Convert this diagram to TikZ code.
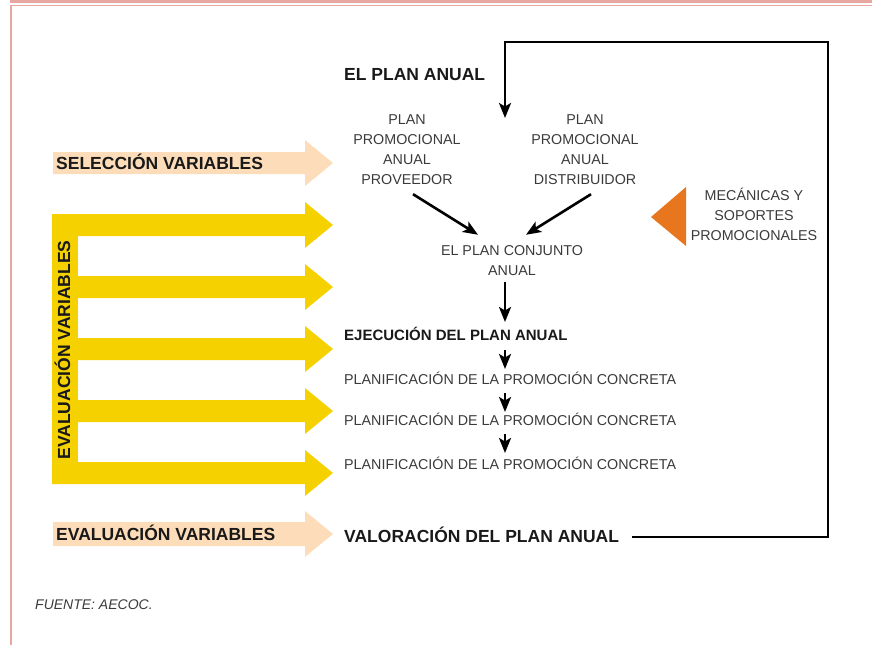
\documentclass[tikz,border=0pt]{standalone}
\usepackage{fontspec}
\setmainfont{Liberation Sans}
\usepackage{xcolor}
\usepackage{tikz}
\usetikzlibrary{arrows.meta}

\definecolor{evalyellow}{HTML}{F5D100}
\definecolor{selpeach}{HTML}{FDDDB9}
\definecolor{mecaorange}{HTML}{E8761E}
\definecolor{framepink}{HTML}{E8A8A2}
\definecolor{textgray}{HTML}{3A3A3A}

\begin{document}
\begin{tikzpicture}[x=1pt,y=-1pt]
    \tikzstyle{heading}=[font=\bfseries\fontsize{17.5}{20}\selectfont, text=black!90, inner sep=0pt, anchor=base west]
\tikzstyle{subheading}=[font=\bfseries\fontsize{15}{18}\selectfont, text=black!90, inner sep=0pt, anchor=base west]
\tikzstyle{plain}=[font=\fontsize{14.3}{20}\selectfont, text=textgray, inner sep=0pt, align=center]
\tikzstyle{flow}=[line width=2.6pt, -{Stealth[length=15pt,width=12pt,inset=3.5pt]}]
\useasboundingbox (0,0) rectangle (872,645);
% frame
\fill[framepink] (10,0) rectangle (872,3);
\fill[framepink] (10,4.7) rectangle (872,6.4);
\fill[framepink] (10,4.7) rectangle (12.4,645);
% left arrows
\fill[selpeach] (53,152) -- (305,152) -- (305,140) -- (333,163) -- (305,186) -- (305,174) -- (53,174) -- cycle;
\fill[selpeach] (53,522) -- (305,522) -- (305,511) -- (333,534) -- (305,557) -- (305,546) -- (53,546) -- cycle;
\fill[evalyellow] (52,214) rectangle (78,484);
\foreach \y in {225,287,349,411,473}
    \fill[evalyellow] (52,\y-11) -- (305,\y-11) -- (305,\y-23) -- (333,\y) -- (305,\y+23) -- (305,\y+11) -- (52,\y+11) -- cycle;
\node[heading] (selvar) at (56,169) {SELECCIÓN VARIABLES};
\node[heading] (evalvar) at (56,540) {EVALUACIÓN VARIABLES};
\node[heading, anchor=base, rotate=90] (evalside) at (70,350) {EVALUACIÓN VARIABLES};
% plan
\node[heading] (plananual) at (344,80.8) {EL PLAN ANUAL};
\node[plain] (prov) at (407,150) {PLAN\\PROMOCIONAL\\ANUAL\\PROVEEDOR};
\node[plain] (dist) at (585,150) {PLAN\\PROMOCIONAL\\ANUAL\\DISTRIBUIDOR};
\node[plain] (conj) at (512,261) {EL PLAN CONJUNTO\\ANUAL};
\fill[mecaorange] (686,187) -- (686,246) -- (651,217) -- cycle;
\node[plain] (meca) at (754,214.7) {MECÁNICAS Y\\SOPORTES\\PROMOCIONALES};
\node[subheading] (ejec) at (344,340) {EJECUCIÓN DEL PLAN ANUAL};
\node[plain, anchor=base west] (promoa) at (344,384) {PLANIFICACIÓN DE LA PROMOCIÓN CONCRETA};
\node[plain, anchor=base west] (promob) at (344,425) {PLANIFICACIÓN DE LA PROMOCIÓN CONCRETA};
\node[plain, anchor=base west] (promoc) at (344,469) {PLANIFICACIÓN DE LA PROMOCIÓN CONCRETA};
\node[heading] (valor) at (344,542.5) {VALORACIÓN DEL PLAN ANUAL};
\node[plain, anchor=base west, font=\itshape\fontsize{14}{16}\selectfont] (fuente) at (35,609) {FUENTE: AECOC.};
% arrows
\coordinate (axis) at (505,0);
\draw[flow] ([xshift=6pt,yshift=-9pt]prov.south) -- ([xshift=-34pt,yshift=11pt]conj.north);
\draw[flow] ([xshift=6pt,yshift=-9pt]dist.south) -- ([xshift=14pt,yshift=11pt]conj.north);
\draw[flow] ([yshift=-6pt]conj.south -| axis) -- ([yshift=18pt]ejec.base -| axis);
\draw[flow] ([yshift=-10pt]ejec.base -| axis) -- ([yshift=15pt]promoa.base -| axis);
\draw[flow] ([yshift=-9pt]promoa.base -| axis) -- ([yshift=13pt]promob.base -| axis);
\draw[flow] ([yshift=-9pt]promob.base -| axis) -- ([yshift=16pt]promoc.base -| axis);
% loop back
\coordinate (loopcorner) at (828,42);
\coordinate (planin) at (505,118);
\draw[flow] ([xshift=13pt,yshift=5.5pt]valor.base east) -| (loopcorner) -| (planin);
\end{tikzpicture}
\end{document}
